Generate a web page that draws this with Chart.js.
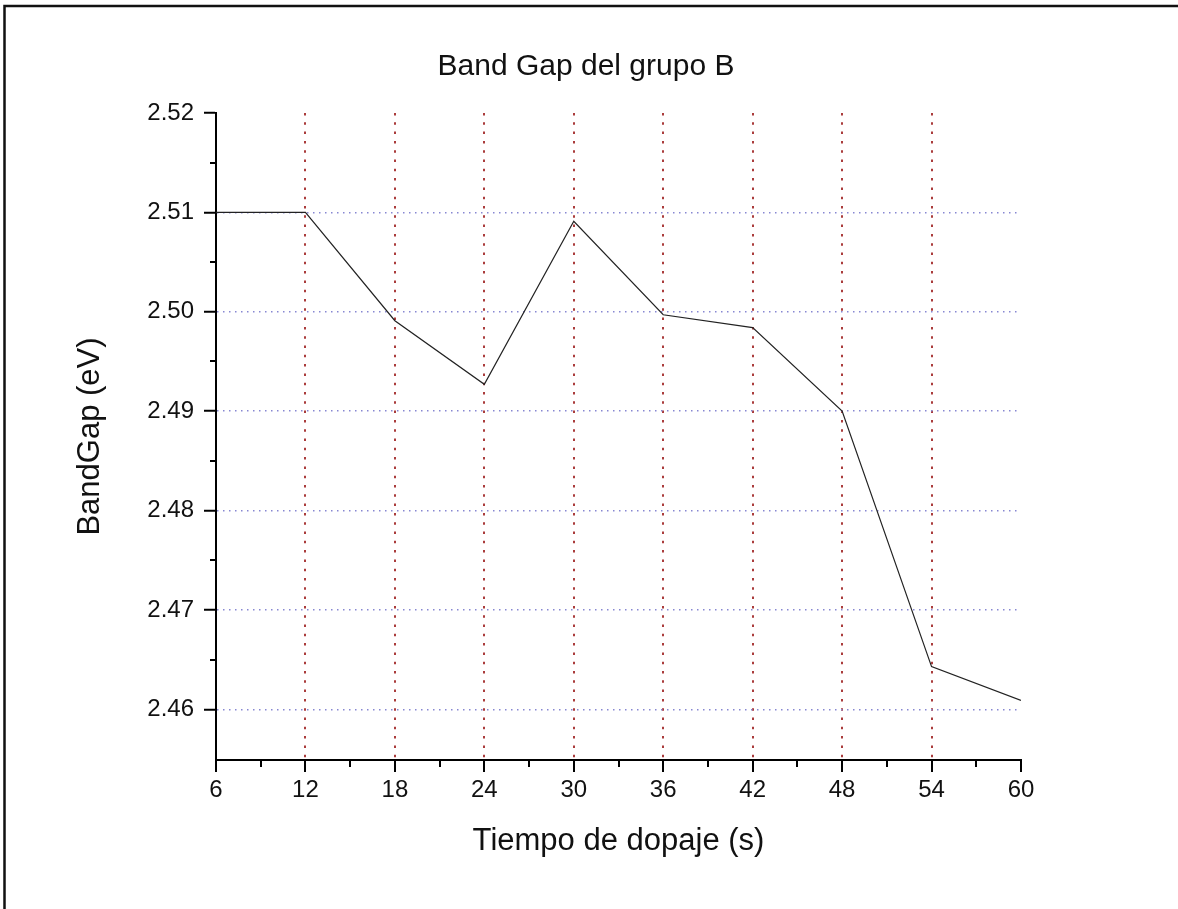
<!DOCTYPE html>
<html>
<head>
<meta charset="utf-8">
<title>Band Gap del grupo B</title>
<script src="https://cdn.jsdelivr.net/npm/chart.js@4.4.0/dist/chart.umd.min.js"></script>
<style>
  body { margin: 0; background: #fff; }
  canvas { display: block; }
</style>
</head>
<body>
<canvas id="bandGapChart" width="1178" height="909"></canvas>
<script>
// tiempo de dopaje (s) y band gap medido (eV)
const tiempos = [6, 12, 18, 24, 30, 36, 42, 48, 54, 60];
const bandGap = [2.5100, 2.5100, 2.4991, 2.4927, 2.5091, 2.4997, 2.4984, 2.4900, 2.4643, 2.4609];

const xTicks = [6, 12, 18, 24, 30, 36, 42, 48, 54, 60];
const xMinorTicks = [9, 15, 21, 27, 33, 39, 45, 51, 57];
const yTicks = [2.46, 2.47, 2.48, 2.49, 2.50, 2.51, 2.52];
const yMinorTicks = [2.465, 2.475, 2.485, 2.495, 2.505, 2.515];

const FONT = '"Liberation Sans", Arial, sans-serif';

// marco exterior y titulo
const framePlugin = {
  id: 'frame',
  afterDraw(chart) {
    const ctx = chart.ctx;
    ctx.save();
    ctx.strokeStyle = '#111';
    ctx.lineWidth = 2.5;
    ctx.beginPath();
    ctx.moveTo(4.5, chart.height);
    ctx.lineTo(4.5, 6);
    ctx.lineTo(chart.width, 6);
    ctx.stroke();
    ctx.fillStyle = '#111';
    ctx.font = '30px ' + FONT;
    ctx.textAlign = 'center';
    ctx.textBaseline = 'alphabetic';
    ctx.fillText('Band Gap del grupo B', 586, 75);
    ctx.restore();
  }
};

// ticks menores en ambos ejes
const minorTicksPlugin = {
  id: 'minorTicks',
  afterDraw(chart) {
    const { ctx, chartArea, scales } = chart;
    ctx.save();
    ctx.strokeStyle = '#000';
    ctx.lineWidth = 2;
    ctx.beginPath();
    xMinorTicks.forEach(v => {
      const px = Math.round(scales.x.getPixelForValue(v));
      ctx.moveTo(px, chartArea.bottom);
      ctx.lineTo(px, chartArea.bottom + 7);
    });
    yMinorTicks.forEach(v => {
      const py = Math.round(scales.y.getPixelForValue(v));
      ctx.moveTo(chartArea.left, py);
      ctx.lineTo(chartArea.left - 6, py);
    });
    ctx.stroke();
    ctx.restore();
  }
};

const ctx = document.getElementById('bandGapChart').getContext('2d');
const chart = new Chart(ctx, {
  type: 'line',
  data: {
    datasets: [{
      label: 'BandGap',
      data: tiempos.map((t, i) => ({ x: t, y: bandGap[i] })),
      borderColor: '#222',
      borderWidth: 1.2,
      pointRadius: 0,
      tension: 0,
      fill: false
    }]
  },
  options: {
    responsive: false,
    animation: false,
    devicePixelRatio: 1,
    layout: { padding: { left: 72, right: 157, top: 113, bottom: 49 } },
    plugins: {
      legend: { display: false },
      title: { display: false },
      tooltip: { enabled: false }
    },
    scales: {
      x: {
        type: 'linear',
        min: 6,
        max: 60,
        afterBuildTicks: s => { s.ticks = xTicks.map(v => ({ value: v })); },
        afterFit: s => { s.height = 100; },
        ticks: {
          autoSkip: false,
          maxRotation: 0,
          padding: 4,
          color: '#111',
          font: { family: FONT, size: 24 }
        },
        grid: {
          color: c => (c.tick && (c.tick.value === 6 || c.tick.value === 60)) ? 'rgba(0,0,0,0)' : 'rgb(170,60,60)',
          lineWidth: 2,
          tickLength: 12,
          tickColor: '#000',
          tickWidth: 2
        },
        border: { color: '#000', width: 2, dash: [2.5, 6.8] },
        title: {
          display: true,
          text: 'Tiempo de dopaje (s)',
          color: '#111',
          padding: 0,
          font: { family: FONT, size: 31 }
        }
      },
      y: {
        type: 'linear',
        min: 2.4549,
        max: 2.52,
        afterBuildTicks: s => { s.ticks = yTicks.map(v => ({ value: v })); },
        afterFit: s => { s.width = 144; },
        ticks: {
          autoSkip: false,
          padding: 10,
          color: '#111',
          font: { family: FONT, size: 24 },
          callback: v => Number(v).toFixed(2)
        },
        grid: {
          color: c => (c.tick && c.tick.value >= 2.52) ? 'rgba(0,0,0,0)' : 'rgb(135,135,210)',
          lineWidth: 1.5,
          tickLength: 12,
          tickColor: '#000',
          tickWidth: 2
        },
        border: { color: '#000', width: 2, dash: [1.5, 4.5] },
        title: {
          display: true,
          text: 'BandGap (eV)',
          color: '#111',
          padding: 0,
          font: { family: FONT, size: 31 }
        }
      }
    }
  },
  plugins: [framePlugin, minorTicksPlugin]
});
</script>
</body>
</html>
